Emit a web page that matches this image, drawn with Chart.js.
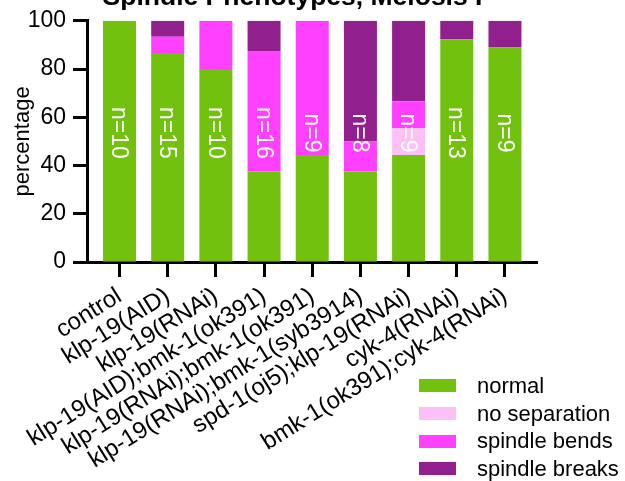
<!DOCTYPE html>
<html>
<head>
<meta charset="utf-8">
<script src="https://cdn.jsdelivr.net/npm/chart.js@4.4.1/dist/chart.umd.min.js"></script>
<style>
  html, body { margin: 0; padding: 0; background: #fff; }
  #wrap { position: relative; width: 625px; height: 481px; overflow: hidden; font-family: "Liberation Sans", Arial, sans-serif; }
  #title { position: absolute; left: 0; width: 585px; top: -17px; text-align: center; font-size: 26.5px; line-height: 26.5px; font-weight: bold; color: #000; white-space: nowrap; }
  #legend { position: absolute; left: 419px; top: 372px; }
  .row { display: flex; align-items: center; height: 27.7px; }
  .box { width: 37px; height: 13px; margin-right: 21px; }
  .lbl { font-size: 22px; line-height: 22px; color: #000; }
</style>
</head>
<body>
<div id="wrap">
  <canvas id="phenoChart"></canvas>
  <div id="title">Spindle Phenotypes, Meiosis I</div>
  <div id="legend"></div>
</div>
<script>
const categories = [
  "control",
  "klp-19(AID)",
  "klp-19(RNAi)",
  "klp-19(AID);bmk-1(ok391)",
  "klp-19(RNAi);bmk-1(ok391)",
  "klp-19(RNAi);bmk-1(syb3914)",
  "spd-1(oj5);klp-19(RNAi)",
  "cyk-4(RNAi)",
  "bmk-1(ok391);cyk-4(RNAi)"
];
const normal = [100, 86.7, 80, 37.5, 44.4, 37.5, 44.4, 92.3, 88.9];
const noSeparation = [0, 0, 0, 0, 0, 0, 11.1, 0, 0];
const spindleBends = [0, 6.7, 20, 50, 55.6, 12.5, 11.1, 0, 0];
const spindleBreaks = [0, 6.6, 0, 12.5, 0, 50, 33.4, 7.7, 11.1];
const nCounts = [10, 15, 10, 16, 9, 8, 9, 13, 9];
const yTicks = [0, 20, 40, 60, 80, 100];

const seriesNames = ["normal", "no separation", "spindle bends", "spindle breaks"];
const seriesColors = ["#72c10e", "#fdc0f6", "#ff40ff", "#91208e"];
const seriesValues = [normal, noSeparation, spindleBends, spindleBreaks];

const FONT = "'Liberation Sans', Arial, sans-serif";
Chart.defaults.font.family = FONT;
Chart.defaults.font.size = 22;
Chart.defaults.color = "#000";

// n= labels written vertically inside each bar
const nLabels = {
  id: "nLabels",
  afterDatasetsDraw(chart) {
    const ctx = chart.ctx;
    const x = chart.scales.x, y = chart.scales.y;
    ctx.save();
    ctx.fillStyle = "#fff";
    ctx.font = "23px " + FONT;
    ctx.textAlign = "center";
    ctx.textBaseline = "middle";
    nCounts.forEach(function (n, i) {
      ctx.save();
      ctx.translate(x.getPixelForValue(i), y.getPixelForValue(53.5));
      ctx.rotate(Math.PI / 2);
      ctx.fillText("n=" + n, 0, 1);
      ctx.restore();
    });
    ctx.restore();
  }
};

new Chart(document.getElementById("phenoChart"), {
  type: "bar",
  data: {
    datasets: seriesNames.map(function (name, k) {
      return {
        label: name,
        data: seriesValues[k].map(function (v, i) { return { x: i, y: v }; }),
        backgroundColor: seriesColors[k],
        borderWidth: 0,
        barPercentage: 0.685,
        categoryPercentage: 1
      };
    })
  },
  options: {
    responsive: true,
    maintainAspectRatio: false,
    animation: false,
    layout: { padding: { top: 20, right: 88, bottom: 0, left: 0 } },
    scales: {
      x: {
        type: "linear",
        stacked: true,
        offset: false,
        min: -0.675,
        max: 8.665,
        afterBuildTicks: function (scale) {
          scale.ticks = categories.map(function (_, i) { return { value: i }; });
        },
        afterFit: function (scale) { scale.height = 219; },
        ticks: {
          autoSkip: false,
          minRotation: 32,
          maxRotation: 32,
          padding: 5,
          font: { size: 24 },
          callback: function (v) { return categories[v]; }
        },
        grid: { offset: false, drawOnChartArea: false, tickLength: 15, tickWidth: 3, tickColor: "#000" },
        border: { display: true, width: 3, color: "#000" }
      },
      y: {
        stacked: true,
        min: 0,
        max: 100,
        afterBuildTicks: function (scale) {
          scale.ticks = yTicks.map(function (v) { return { value: v }; });
        },
        afterFit: function (scale) { scale.width = 87; },
        ticks: { padding: 7, font: { size: 23 } },
        grid: { drawOnChartArea: false, tickLength: 14, tickWidth: 3, tickColor: "#000" },
        border: { display: true, width: 3, color: "#000" },
        title: { display: true, text: "percentage", padding: { top: 10, bottom: 0 } }
      }
    },
    plugins: {
      legend: { display: false },
      tooltip: { enabled: false }
    }
  },
  plugins: [nLabels]
});

const legend = document.getElementById("legend");
seriesNames.forEach(function (name, k) {
  const row = document.createElement("div");
  row.className = "row";
  const box = document.createElement("div");
  box.className = "box";
  box.style.background = seriesColors[k];
  const lbl = document.createElement("span");
  lbl.className = "lbl";
  lbl.textContent = name;
  row.appendChild(box);
  row.appendChild(lbl);
  legend.appendChild(row);
});
</script>
</body>
</html>
